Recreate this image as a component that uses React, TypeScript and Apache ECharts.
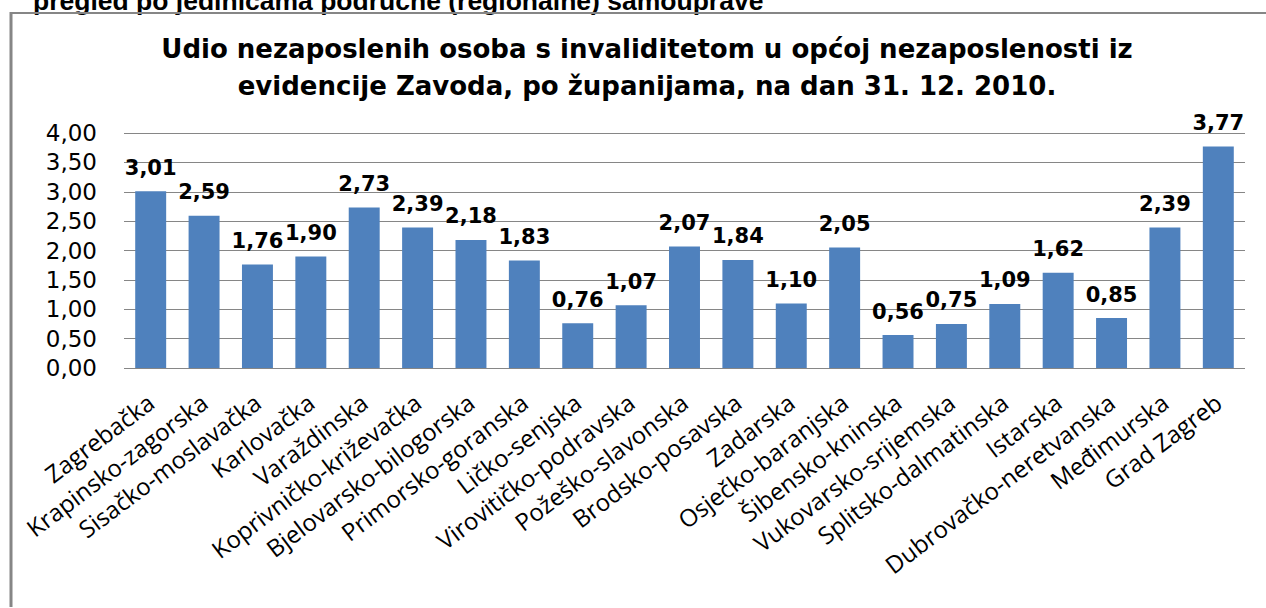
import React, { useEffect, useRef } from "react";
import * as echarts from "echarts";

const categories = [
  "Zagrebačka",
  "Krapinsko-zagorska",
  "Sisačko-moslavačka",
  "Karlovačka",
  "Varaždinska",
  "Koprivničko-križevačka",
  "Bjelovarsko-bilogorska",
  "Primorsko-goranska",
  "Ličko-senjska",
  "Virovitičko-podravska",
  "Požeško-slavonska",
  "Brodsko-posavska",
  "Zadarska",
  "Osječko-baranjska",
  "Šibensko-kninska",
  "Vukovarsko-srijemska",
  "Splitsko-dalmatinska",
  "Istarska",
  "Dubrovačko-neretvanska",
  "Međimurska",
  "Grad Zagreb",
];

const values = [
  3.01, 2.59, 1.76, 1.9, 2.73, 2.39, 2.18, 1.83, 0.76, 1.07, 2.07, 1.84, 1.1,
  2.05, 0.56, 0.75, 1.09, 1.62, 0.85, 2.39, 3.77,
];

const titleLines = [
  "Udio nezaposlenih osoba s invaliditetom u općoj nezaposlenosti iz",
  "evidencije Zavoda, po županijama, na dan 31. 12. 2010.",
];

const headerText = "pregled po jedinicama područne (regionalne) samouprave";

const fmt = (v: number) => v.toFixed(2).replace(".", ",");

export default function App() {
  const ref = useRef<HTMLDivElement>(null);
  useEffect(() => {
    if (!ref.current) return;
    const chart = echarts.init(ref.current, null, { renderer: "svg" });
    chart.setOption({
      animation: false,
      backgroundColor: "#ffffff",
      title: {
        text: titleLines.join("\n"),
        left: 642,
        textAlign: "center",
        top: 25,
        textStyle: {
          fontFamily: "DejaVu Sans",
          fontSize: 26,
          fontWeight: "bold",
          color: "#000000",
          lineHeight: 37,
        },
      },
      graphic: [
        {
          type: "text",
          left: 33,
          top: -13,
          style: {
            text: headerText,
            font: "bold 26.5px 'Liberation Sans'",
            fill: "#000000",
          },
        },
        {
          type: "line",
          shape: { x1: 10, y1: 13, x2: 1266, y2: 13 },
          style: { stroke: "#868686", lineWidth: 2 },
        },
        {
          type: "line",
          shape: { x1: 11, y1: 12, x2: 11, y2: 607 },
          style: { stroke: "#868686", lineWidth: 3 },
        },
      ],
      grid: { left: 124, right: 21, top: 133, bottom: 240 },
      xAxis: {
        type: "category",
        data: categories,
        axisLine: { show: false },
        axisTick: { show: false },
        axisLabel: {
          rotate: 37,
          interval: 0,
          margin: 31,
          fontFamily: "Open Sans",
          fontSize: 24,
          color: "#000000",
        },
      },
      yAxis: {
        type: "value",
        min: 0,
        max: 4,
        interval: 0.5,
        axisLine: { show: false },
        axisTick: { show: false },
        splitLine: { lineStyle: { color: "#868686", width: 1 } },
        axisLabel: {
          formatter: (v: number) => fmt(v),
          margin: 27,
          fontFamily: "DejaVu Sans",
          fontSize: 23,
          color: "#000000",
        },
      },
      series: [
        {
          type: "bar",
          data: values,
          barCategoryGap: "42%",
          itemStyle: { color: "#4F81BD" },
          label: {
            show: true,
            position: "top",
            distance: 13,
            formatter: (p: any) => fmt(p.value),
            fontFamily: "DejaVu Sans",
            fontWeight: "bold",
            fontSize: 21,
            color: "#000000",
          },
        },
      ],
    });
    return () => chart.dispose();
  }, []);
  return (
    <div
      ref={ref}
      style={{ position: "absolute", left: 0, top: 0, width: 1266, height: 608 }}
    />
  );
}
